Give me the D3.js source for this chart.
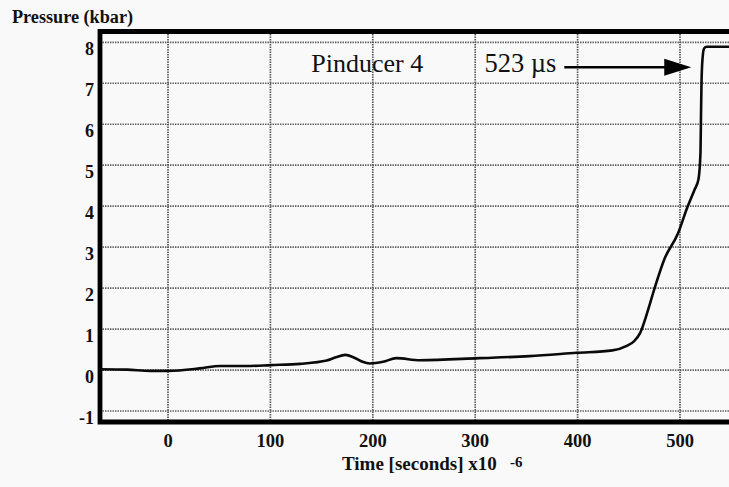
<!DOCTYPE html>
<html>
<head>
<meta charset="utf-8">
<script src="https://cdn.jsdelivr.net/npm/d3@7"></script>
<style>
  html, body { margin: 0; padding: 0; background: #f9f9f9; }
  svg { display: block; }
  text { font-family: "Liberation Serif", "Times New Roman", serif; fill: #111; }
</style>
</head>
<body>
<svg id="chart" width="729" height="487"></svg>
<script>
// ---- data ----
const timeUs = [-66, -40, -17, 0, 31, 51, 80, 100, 129, 155, 164, 173, 182, 190, 197, 210, 223, 246, 304, 353, 399, 434, 448, 455, 461, 468, 475, 485, 498, 507, 514, 518, 520, 520.5, 521, 522, 523.5, 526, 560];
const pressureKbar = [0.02, 0.01, -0.02, -0.02, 0.04, 0.1, 0.1, 0.12, 0.15, 0.23, 0.31, 0.37, 0.3, 0.2, 0.16, 0.2, 0.29, 0.24, 0.29, 0.34, 0.42, 0.48, 0.59, 0.7, 0.9, 1.4, 1.98, 2.72, 3.33, 3.96, 4.39, 4.65, 5.3, 6.2, 7.0, 7.6, 7.85, 7.89, 7.89];
const xTicks = [0, 100, 200, 300, 400, 500];
const yTicks = [-1, 0, 1, 2, 3, 4, 5, 6, 7, 8];
const yTitle = "Pressure (kbar)";
const xTitle = "Time [seconds] x10";
const xTitleExp = "-6";
const gaugeLabel = "Pinducer 4";
const arrivalLabel = "523 \u00B5s";
const arrivalArrow = { from: 387, to: 511, p: 7.39 };

// ---- layout ----
const svg = d3.select("#chart");
const x = d3.scaleLinear().domain([0, 500]).range([168, 680]);
const y = d3.scaleLinear().domain([-1, 8]).range([411, 42.3]);
const plot = { left: 100, top: 31.5, bottom: 422, right: 760 };

// gridlines
const grid = svg.append("g").attr("stroke", "#5a5a5a").attr("stroke-width", 1.7)
  .attr("stroke-dasharray", "1.4,1.1").attr("fill", "none");
grid.selectAll("line.h").data(yTicks).join("line").attr("class", "h")
  .attr("x1", plot.left).attr("x2", plot.right)
  .attr("y1", d => y(d)).attr("y2", d => y(d));
grid.selectAll("line.v").data(xTicks).join("line").attr("class", "v")
  .attr("x1", d => x(d)).attr("x2", d => x(d))
  .attr("y1", plot.top).attr("y2", plot.bottom + 2);

// curve
const line = d3.line().x((d, i) => x(timeUs[i])).y(d => y(d)).curve(d3.curveMonotoneX);
svg.append("path").datum(pressureKbar)
  .attr("d", line).attr("fill", "none").attr("stroke", "#0a0a0a")
  .attr("stroke-width", 2.6).attr("stroke-linejoin", "round");

// clip the part of the curve left of the frame
svg.append("rect").attr("x", 0).attr("y", 0).attr("width", plot.left - 2).attr("height", 487).attr("fill", "#f9f9f9");

// frame
svg.append("path")
  .attr("d", `M${plot.right},${plot.top}H${plot.left}V${plot.bottom}H${plot.right}`)
  .attr("fill", "none").attr("stroke", "#000").attr("stroke-width", 4.8);

// y tick labels (hang just below their gridline)
svg.append("g").selectAll("text").data(yTicks).join("text")
  .attr("x", 94).attr("y", d => y(d) + 13)
  .attr("text-anchor", "end").attr("font-size", 18).attr("font-weight", "bold")
  .text(d => d);

// x tick labels
svg.append("g").selectAll("text").data(xTicks).join("text")
  .attr("x", d => x(d)).attr("y", 446.5)
  .attr("text-anchor", "middle").attr("font-size", 18.5).attr("font-weight", "bold")
  .text(d => d);

// axis titles
svg.append("text").attr("x", 12).attr("y", 23).attr("font-size", 18.2).attr("font-weight", "bold").text(yTitle);
svg.append("text").attr("x", 342).attr("y", 470).attr("font-size", 19).attr("font-weight", "bold").text(xTitle);
svg.append("text").attr("x", 510).attr("y", 466.5).attr("font-size", 15).attr("font-weight", "bold").text(xTitleExp);

// annotations
svg.append("text").attr("x", x(140)).attr("y", 72).attr("font-size", 26).text(gaugeLabel);
svg.append("text").attr("x", x(309)).attr("y", 72).attr("font-size", 26.5).text(arrivalLabel);
const ay = y(arrivalArrow.p);
const ax0 = x(arrivalArrow.from), ax1 = x(arrivalArrow.to);
svg.append("line").attr("x1", ax0).attr("x2", ax1 - 20).attr("y1", ay).attr("y2", ay)
  .attr("stroke", "#000").attr("stroke-width", 2.6);
svg.append("path")
  .attr("d", `M${ax1},${ay}L${ax1 - 27},${ay - 8.5}L${ax1 - 27},${ay + 8.5}Z`)
  .attr("fill", "#000");
</script>
</body>
</html>
